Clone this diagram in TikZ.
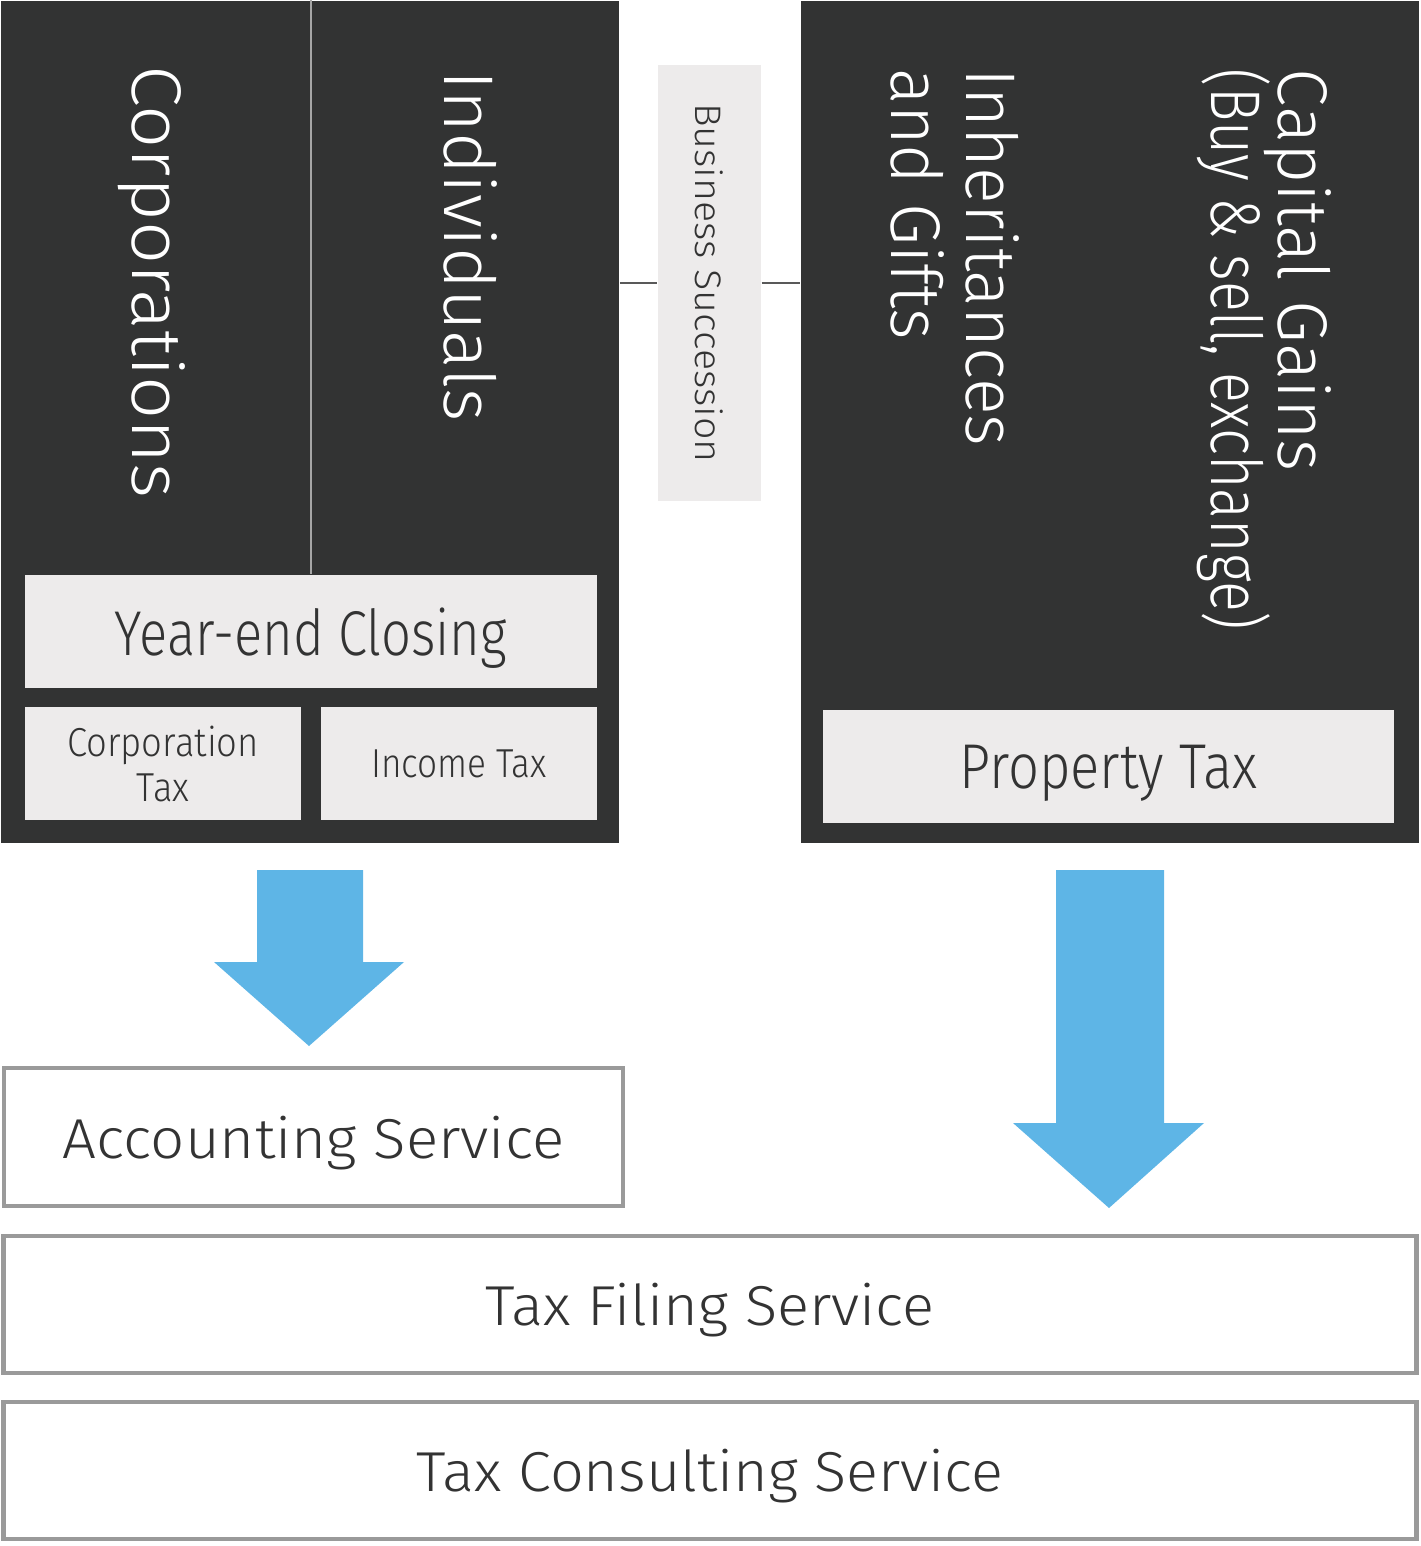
\documentclass[tikz,border=0pt]{standalone}
\usepackage{fontspec}
\setmainfont{Fira Sans}[UprightFont={* Light}]
\usepackage{graphicx}
\usepackage{tikz}
\usetikzlibrary{positioning}
\definecolor{panelgray}{HTML}{323333}
\definecolor{boxgray}{HTML}{EDEBEB}
\definecolor{framegray}{HTML}{9A9A9A}
\definecolor{textgray}{HTML}{333333}
\definecolor{flowblue}{HTML}{5EB5E6}
% horizontal squeeze / stretch of a label
\newcommand{\hs}[2]{\scalebox{#1}[1]{#2}}
\newcommand{\tightlines}{\lineskiplimit=-20pt\relax}

\begin{document}
\begin{tikzpicture}
[x=0.01cm,y=-0.01cm,
 panel/.style={fill=panelgray,inner sep=0pt,anchor=north west},
 tbox/.style={fill=boxgray,text=textgray,inner sep=0pt,align=center,text depth=0pt},
 svc/.style={draw=framegray,line width=1.2pt,fill=white,text=textgray,inner sep=0pt,text depth=0pt},
 vlabel/.style={text=white,rotate=-90,anchor=west,inner sep=0pt,align=left},
 conn/.style={draw=black!65,line width=0.6pt},
 flow/.style={fill=flowblue}]
\useasboundingbox (0,0) rectangle (1420,1546);

% dark panels
\node[panel,minimum width=6.18cm,minimum height=8.42cm] (left) at (0,0) {};
\node[panel,minimum width=6.18cm,minimum height=8.42cm] (right) at (800,0) {};

% boxes in the panels
\node[tbox,minimum width=5.72cm,minimum height=1.13cm,font=\fontsize{18}{20}\selectfont] (yec) at (311,631.5) {\hs{0.83}{Year-end Closing}};
\node[tbox,minimum width=2.76cm,minimum height=1.13cm,font=\fontsize{11.5}{12.8}\selectfont,text depth=] (ct) at (163,763.5) {\hs{0.9}{Corporation}\\\hs{0.9}{Tax}};
\node[tbox,minimum width=2.76cm,minimum height=1.13cm,font=\fontsize{11.5}{12.8}\selectfont] (it) at (459,763.5) {\hs{0.87}{Income Tax}};
\node[tbox,minimum width=5.71cm,minimum height=1.13cm,font=\fontsize{18}{20}\selectfont] (pt) at (1108.5,766.5) {\hs{0.86}{Property Tax}};
\draw[white!65!black,line width=0.3pt] (yec.north |- left.north) -- (yec.north);

% vertical labels
\node[vlabel,font=\fontsize{20}{21}\selectfont] (corp) at (152,65) {\hs{1.075}{Corporations}};
\node[vlabel,font=\fontsize{20}{21}\selectfont] (indiv) at (471,70) {\hs{1.02}{Individuals}};
\node[vlabel,font=\fontsize{20}{21.3}\selectfont\tightlines] (inh) at (955,68) {\hs{0.97}{Inheritances}\\\hs{0.965}{and Gifts}};
\node[vlabel,font=\fontsize{20}{19}\selectfont\tightlines] (cap) at (1264,68) {\hs{0.985}{Capital Gains}\\\hs{0.814}{(Buy \& sell, exchange)}};

% business succession
\node[tbox,rotate=-90,minimum width=4.36cm,minimum height=1.03cm,font=\fontsize{10.5}{12}\selectfont] (bs) at (709.5,283) {\hs{1.067}{Business Succession}};
\draw[conn] (left.east |- bs) -- (bs.south);
\draw[conn] (bs.north) -- (right.west |- bs);

% arrows
\fill[flow] (257,870) -- (363,870) -- (363,962) -- (404,962) -- (309,1046) -- (214,962) -- (257,962) -- cycle;
\fill[flow] (1056,870) -- (1164,870) -- (1164,1123) -- (1204,1123) -- (1109,1208) -- (1013,1123) -- (1056,1123) -- cycle;

% services
\node[svc,minimum width=6.19cm,minimum height=1.38cm,font=\fontsize{16}{18}\selectfont] (acc) at (313.5,1137) {\hs{1.067}{Accounting Service}};
\node[svc,minimum width=14.12cm,minimum height=1.37cm,font=\fontsize{16}{18}\selectfont] (fil) at (710,1304.5) {\hs{1.06}{Tax Filing Service}};
\node[svc,minimum width=14.12cm,minimum height=1.37cm,font=\fontsize{16}{18}\selectfont] (cons) at (710,1470.5) {\hs{1.056}{Tax Consulting Service}};
\end{tikzpicture}
\end{document}
